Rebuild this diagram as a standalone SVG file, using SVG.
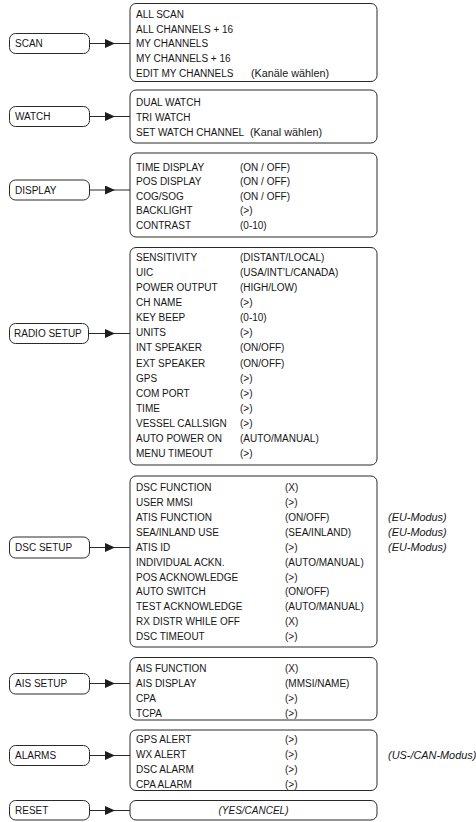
<svg xmlns="http://www.w3.org/2000/svg" width="476" height="822" viewBox="0 0 476 822">
<style>
  text { font-family: "Liberation Sans", Arial, sans-serif; font-size: 10px; fill: #161616; }
  .it { font-style: italic; }
  .note { font-style: italic; font-size: 10.9px; }
  .lc { font-size: 10.8px; }
  .node { fill: #fff; stroke: #2a2a2a; stroke-width: 1; }
  .menu { fill: #fff; stroke: #2a2a2a; stroke-width: 1; }
  .conn { fill: none; stroke: #2a2a2a; stroke-width: 1; marker-mid: url(#tri); }
</style>
<defs>
  <marker id="tri" markerUnits="userSpaceOnUse" markerWidth="10" markerHeight="9" refX="10" refY="4.5" orient="auto">
    <path d="M0,0 L10,4.5 L0,9 Z" fill="#1e1e1e"/>
  </marker>
</defs>
<rect width="476" height="822" fill="#fff"/>

<g id="connectors">
  <path class="conn" d="M90,43.5 H115 H130"/>
  <path class="conn" d="M90,116.5 H115 H130"/>
  <path class="conn" d="M90,190 H115 H130"/>
  <path class="conn" d="M89,333.5 H115 H130"/>
  <path class="conn" d="M90,547.5 H115 H130"/>
  <path class="conn" d="M90,683.5 H115 H130"/>
  <path class="conn" d="M90,755.5 H115 H130"/>
  <path class="conn" d="M90,810.5 H115 H130"/>
</g>

<g id="node-scan">
  <rect class="node" x="9.5" y="33.5" width="80" height="20" rx="6"/>
  <text x="15" y="47.1">SCAN</text>
</g>
<g id="menu-scan">
  <rect class="menu" x="130" y="3.5" width="247" height="78" rx="6"/>
  <text x="136" y="17.9">ALL SCAN</text>
  <text x="136" y="32.7">ALL CHANNELS + 16</text>
  <text x="136" y="47.4">MY CHANNELS</text>
  <text x="136" y="62.2">MY CHANNELS + 16</text>
  <text x="136" y="76.9">EDIT MY CHANNELS<tspan class="lc" x="251">(Kanäle wählen)</tspan></text>
</g>

<g id="node-watch">
  <rect class="node" x="9.5" y="106.5" width="80" height="20" rx="6"/>
  <text x="15" y="120.1">WATCH</text>
</g>
<g id="menu-watch">
  <rect class="menu" x="130" y="90" width="247" height="53" rx="6"/>
  <text x="136" y="105.6">DUAL WATCH</text>
  <text x="136" y="120.9">TRI WATCH</text>
  <text x="136" y="136.3">SET WATCH CHANNEL<tspan class="lc" x="250">(Kanal wählen)</tspan></text>
</g>

<g id="node-display">
  <rect class="node" x="9.5" y="180" width="80" height="20" rx="6"/>
  <text x="15" y="193.6">DISPLAY</text>
</g>
<g id="menu-display">
  <rect class="menu" x="130" y="153" width="247" height="84" rx="6"/>
  <text x="136" y="170.6">TIME DISPLAY</text><text x="240" y="170.6">(ON / OFF)</text>
  <text x="136" y="185.1">POS DISPLAY</text><text x="240" y="185.1">(ON / OFF)</text>
  <text x="136" y="199.6">COG/SOG</text><text x="240" y="199.6">(ON / OFF)</text>
  <text x="136" y="214.1">BACKLIGHT</text><text x="240" y="214.1">(&gt;)</text>
  <text x="136" y="228.6">CONTRAST</text><text x="240" y="228.6">(0-10)</text>
</g>

<g id="node-radio-setup">
  <rect class="node" x="9.5" y="323.5" width="79" height="20" rx="6"/>
  <text x="14" y="337.1">RADIO SETUP</text>
</g>
<g id="menu-radio-setup">
  <rect class="menu" x="130" y="247.5" width="247" height="217.5" rx="6"/>
  <text x="136" y="260.9">SENSITIVITY</text><text x="240" y="260.9">(DISTANT/LOCAL)</text>
  <text x="136" y="276.0">UIC</text><text x="240" y="276.0">(USA/INT’L/CANADA)</text>
  <text x="136" y="291.1">POWER OUTPUT</text><text x="240" y="291.1">(HIGH/LOW)</text>
  <text x="136" y="306.1">CH NAME</text><text x="240" y="306.1">(&gt;)</text>
  <text x="136" y="321.2">KEY BEEP</text><text x="240" y="321.2">(0-10)</text>
  <text x="136" y="336.3">UNITS</text><text x="240" y="336.3">(&gt;)</text>
  <text x="136" y="351.4">INT SPEAKER</text><text x="240" y="351.4">(ON/OFF)</text>
  <text x="136" y="366.5">EXT SPEAKER</text><text x="240" y="366.5">(ON/OFF)</text>
  <text x="136" y="381.5">GPS</text><text x="240" y="381.5">(&gt;)</text>
  <text x="136" y="396.6">COM PORT</text><text x="240" y="396.6">(&gt;)</text>
  <text x="136" y="411.7">TIME</text><text x="240" y="411.7">(&gt;)</text>
  <text x="136" y="426.8">VESSEL CALLSIGN</text><text x="240" y="426.8">(&gt;)</text>
  <text x="136" y="441.9">AUTO POWER ON</text><text x="240" y="441.9">(AUTO/MANUAL)</text>
  <text x="136" y="456.9">MENU TIMEOUT</text><text x="240" y="456.9">(&gt;)</text>
</g>

<g id="node-dsc-setup">
  <rect class="node" x="9.5" y="537" width="80" height="21" rx="6"/>
  <text x="15" y="551.1">DSC SETUP</text>
</g>
<g id="menu-dsc-setup">
  <rect class="menu" x="130" y="476" width="247" height="171" rx="6"/>
  <text x="136" y="490.9">DSC FUNCTION</text><text x="285" y="490.9">(X)</text>
  <text x="136" y="505.8">USER MMSI</text><text x="285" y="505.8">(&gt;)</text>
  <text x="136" y="520.8">ATIS FUNCTION</text><text x="285" y="520.8">(ON/OFF)</text>
  <text x="136" y="535.7">SEA/INLAND USE</text><text x="285" y="535.7">(SEA/INLAND)</text>
  <text x="136" y="550.6">ATIS ID</text><text x="285" y="550.6">(&gt;)</text>
  <text x="136" y="565.6">INDIVIDUAL ACKN.</text><text x="285" y="565.6">(AUTO/MANUAL)</text>
  <text x="136" y="580.5">POS ACKNOWLEDGE</text><text x="285" y="580.5">(&gt;)</text>
  <text x="136" y="595.4">AUTO SWITCH</text><text x="285" y="595.4">(ON/OFF)</text>
  <text x="136" y="610.3">TEST ACKNOWLEDGE</text><text x="285" y="610.3">(AUTO/MANUAL)</text>
  <text x="136" y="625.3">RX DISTR WHILE OFF</text><text x="285" y="625.3">(X)</text>
  <text x="136" y="640.2">DSC TIMEOUT</text><text x="285" y="640.2">(&gt;)</text>
</g>
<g id="notes-dsc">
  <text class="note" x="388" y="520.8">(EU-Modus)</text>
  <text class="note" x="388" y="535.7">(EU-Modus)</text>
  <text class="note" x="388" y="550.6">(EU-Modus)</text>
</g>

<g id="node-ais-setup">
  <rect class="node" x="9.5" y="673.5" width="80" height="20.5" rx="6"/>
  <text x="15" y="687.3">AIS SETUP</text>
</g>
<g id="menu-ais-setup">
  <rect class="menu" x="130" y="657.5" width="247" height="62.5" rx="6"/>
  <text x="136" y="671.6">AIS FUNCTION</text><text x="285" y="671.6">(X)</text>
  <text x="136" y="686.6">AIS DISPLAY</text><text x="285" y="686.6">(MMSI/NAME)</text>
  <text x="136" y="701.6">CPA</text><text x="285" y="701.6">(&gt;)</text>
  <text x="136" y="716.6">TCPA</text><text x="285" y="716.6">(&gt;)</text>
</g>

<g id="node-alarms">
  <rect class="node" x="9.5" y="745.5" width="80" height="20" rx="6"/>
  <text x="15" y="759.1">ALARMS</text>
</g>
<g id="menu-alarms">
  <rect class="menu" x="130" y="730" width="247" height="60.5" rx="6"/>
  <text x="136" y="742.6">GPS ALERT</text><text x="285" y="742.6">(&gt;)</text>
  <text x="136" y="757.8">WX ALERT</text><text x="285" y="757.8">(&gt;)</text>
  <text x="136" y="773.1">DSC ALARM</text><text x="285" y="773.1">(&gt;)</text>
  <text x="136" y="788.0">CPA ALARM</text><text x="285" y="788.0">(&gt;)</text>
</g>
<g id="notes-alarms">
  <text class="note" x="388" y="758.8">(US-/CAN-Modus)</text>
</g>

<g id="node-reset">
  <rect class="node" x="9.5" y="800.5" width="80" height="19.5" rx="6"/>
  <text x="15" y="814.1">RESET</text>
</g>
<g id="menu-reset">
  <rect class="menu" x="130" y="800.5" width="247" height="19.5" rx="6"/>
  <text class="it" x="253.5" y="814.1" text-anchor="middle">(YES/CANCEL)</text>
</g>
</svg>
